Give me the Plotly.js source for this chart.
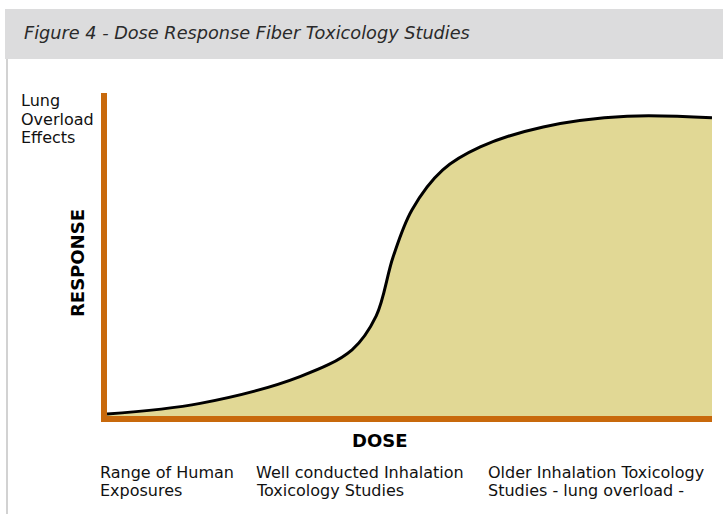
<!DOCTYPE html>
<html>
<head>
<meta charset="utf-8">
<script src="https://cdn.plot.ly/plotly-3.0.1.min.js"></script>
<style>html,body{margin:0;padding:0;background:#fff;}#chart{width:723px;height:514px;}</style>
</head>
<body>
<div id="chart"></div>
<script>
// Dose (0-100, arbitrary units) and response (0-100, arbitrary units)
var dose = [0, 15.4, 31.9, 40.5, 44.5, 47.3, 50.4, 55.5, 61.7, 72.1, 86, 100];
var response = [0.6, 3.9, 12.2, 20.5, 31, 49.3, 63.8, 76.2, 83.3, 89.5, 92.8, 92.3];

var titleText = "Figure 4 - Dose Response Fiber Toxicology Studies";
var yTopLines = ["Lung", "Overload", "Effects"];
var yAxisLabel = "RESPONSE";
var xAxisLabel = "DOSE";
var bottomLabels = [["Range of Human", "Exposures"], ["Well conducted Inhalation", "Toxicology Studies"], ["Older Inhalation Toxicology", "Studies - lung overload -"]];

var W = 723, H = 514;
var L = 107, R = 712, T = 93, B = 416;
function px(x){ return (x - L) / (R - L); }
function py(y){ return (B - y) / (B - T); }

var orange = "#c8690c";
var fontBody = "DejaVu Sans, sans-serif";

var trace = {
  x: dose, y: response, type: "scatter", mode: "lines",
  line: {color: "#000", width: 3, shape: "spline", smoothing: 1},
  fill: "tozeroy", fillcolor: "#e1d895",
  hoverinfo: "skip"
};

var annotations = [
  {text: "<b>" + yAxisLabel + "</b>", xref: "paper", yref: "paper", x: px(77.5), y: py(263.5), xanchor: "center", yanchor: "middle", textangle: -90, showarrow: false, font: {family: fontBody, size: 18, color: "#000"}},
  {text: "<b>" + xAxisLabel + "</b>", xref: "paper", yref: "paper", x: px(380), y: py(440), xanchor: "center", yanchor: "middle", showarrow: false, font: {family: fontBody, size: 18, color: "#000"}}
];
yTopLines.forEach(function(t, i){
  annotations.push({text: t, xref: "paper", yref: "paper", x: px(19), y: py(101 + i * 18.3), xanchor: "left", yanchor: "middle", align: "left", showarrow: false, font: {family: fontBody, size: 16, color: "#111"}});
});
var bottomX = [99, 255, 487];
bottomLabels.forEach(function(lines, i){
  lines.forEach(function(t, j){
    annotations.push({text: t, xref: "paper", yref: "paper", x: px(bottomX[i] - 1), y: py(472 + j * 18), xanchor: "left", yanchor: "middle", align: "left", showarrow: false, font: {family: fontBody, size: 16, color: "#111"}});
  });
});

var layout = {
  width: W, height: H,
  margin: {l: L, r: W - R, t: T, b: H - B, pad: 0},
  paper_bgcolor: "#fff", plot_bgcolor: "#fff",
  showlegend: false,
  title: {text: "<i>" + titleText + "</i>", xref: "container", yref: "container", x: 24 / W, y: 1 - 33 / H, xanchor: "left", yanchor: "middle", font: {family: fontBody, size: 17.7, color: "#2a2a2a"}},
  xaxis: {range: [0, 100], showline: true, linewidth: 6, linecolor: orange, showgrid: false, zeroline: false, showticklabels: false, ticks: "", fixedrange: true},
  yaxis: {range: [0, 100], showline: true, linewidth: 6, linecolor: orange, showgrid: false, zeroline: false, showticklabels: false, ticks: "", fixedrange: true},
  shapes: [
    {type: "rect", xref: "paper", yref: "paper", x0: px(5), x1: px(725), y0: py(59), y1: py(9), fillcolor: "#dcdcdd", line: {width: 0}, layer: "below"},
    {type: "line", xref: "paper", yref: "paper", x0: px(7), x1: px(7), y0: py(59), y1: py(516), line: {color: "#d2d2d2", width: 2}, layer: "below"}
  ],
  annotations: annotations
};

Plotly.newPlot("chart", [trace], layout, {staticPlot: true, displayModeBar: false});
</script>
</body>
</html>
